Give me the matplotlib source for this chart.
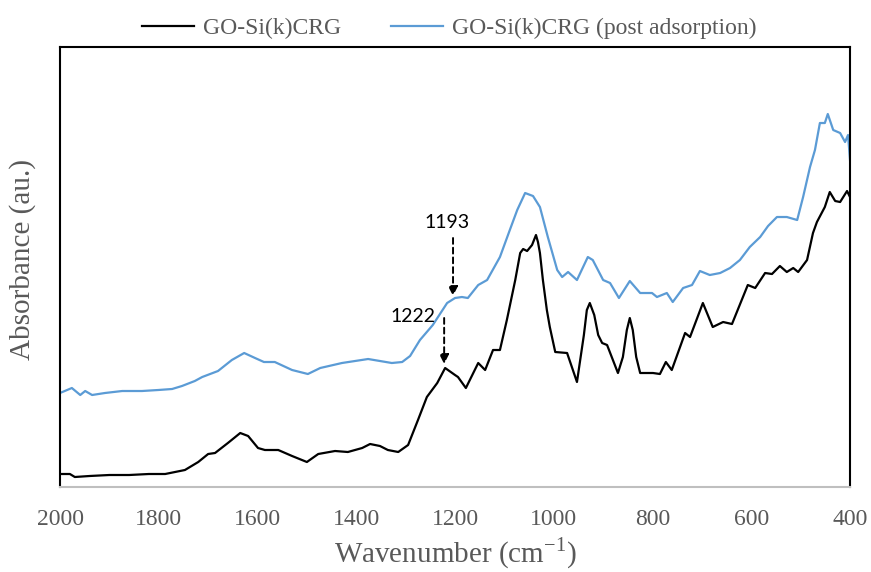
import numpy as np
import matplotlib
matplotlib.use("Agg")
import matplotlib.pyplot as plt

# ---------------- data ----------------
wn_go = [2000, 1980, 1970, 1940, 1900, 1860, 1820, 1787, 1747, 1720, 1700, 1686,
         1660, 1635, 1619, 1599, 1585, 1558, 1530, 1500, 1477, 1443, 1417, 1388,
         1372, 1352, 1336, 1315, 1295, 1275, 1257, 1236, 1220, 1200, 1194, 1178,
         1153, 1139, 1123, 1109, 1095, 1078, 1068, 1062, 1054, 1044, 1036, 1032,
         1028, 1022, 1014, 1008, 997, 973, 953, 939, 933, 927, 918, 910, 902, 892,
         870, 860, 852, 846, 840, 833, 825, 799, 785, 773, 761, 734, 724, 698, 678,
         657, 639, 607, 592, 572, 558, 542, 528, 515, 505, 487, 475, 467, 451, 441,
         430, 420, 406, 400]
abs_go = [0.13, 0.13, 0.10, 0.11, 0.12, 0.12, 0.13, 0.13, 0.17, 0.25, 0.33, 0.34,
          0.44, 0.54, 0.51, 0.39, 0.37, 0.37, 0.31, 0.25, 0.33, 0.36, 0.35, 0.39,
          0.43, 0.41, 0.37, 0.35, 0.42, 0.67, 0.90, 1.04, 1.19, 1.12, 1.10, 0.99,
          1.24, 1.17, 1.37, 1.37, 1.67, 2.07, 2.34, 2.38, 2.36, 2.42, 2.52, 2.45,
          2.34, 2.07, 1.77, 1.60, 1.35, 1.34, 1.05, 1.52, 1.77, 1.84, 1.72, 1.52, 1.44, 1.42,
          1.14, 1.30, 1.57, 1.69, 1.57, 1.30, 1.14, 1.14, 1.13, 1.25, 1.17, 1.54, 1.50, 1.84, 1.60,
          1.65, 1.63, 2.02, 1.99, 2.14, 2.13, 2.21, 2.15, 2.19, 2.15, 2.27, 2.54, 2.65, 2.80, 2.95,
          2.86, 2.85, 2.96, 2.90]

wn_post = [2000, 1976, 1959, 1949, 1935, 1909, 1874, 1834, 1801, 1773, 1753, 1727,
           1712, 1680, 1652, 1627, 1605, 1587, 1565, 1530, 1498, 1473, 1429, 1376,
           1328, 1307, 1291, 1271, 1245, 1216, 1200, 1186, 1174, 1153, 1135, 1109,
           1089, 1074, 1058, 1042, 1028, 1012, 993, 983, 971, 953, 931, 921, 900,
           886, 868, 846, 825, 801, 791, 771, 759, 738, 720, 704, 684, 663, 643,
           623, 603, 582, 566, 548, 528, 507, 495, 481, 471, 461, 451, 445, 434,
           420, 410, 404, 400]
abs_post = [0.94, 0.99, 0.92, 0.96, 0.92, 0.94, 0.96, 0.96, 0.97, 0.98, 1.01, 1.06,
            1.10, 1.16, 1.27, 1.34, 1.29, 1.25, 1.25, 1.17, 1.13, 1.19, 1.24, 1.28,
            1.24, 1.25, 1.31, 1.47, 1.62, 1.84, 1.89, 1.90, 1.89, 2.02, 2.07, 2.30,
            2.57, 2.77, 2.94, 2.91, 2.80, 2.50, 2.17, 2.10, 2.15, 2.07, 2.30, 2.27, 2.07,
            2.04, 1.89, 2.06, 1.94, 1.94, 1.90, 1.94, 1.85, 1.99, 2.02, 2.16, 2.12, 2.14, 2.19,
            2.27, 2.40, 2.50, 2.61, 2.70, 2.70, 2.67, 2.90, 3.20, 3.37, 3.64, 3.64, 3.73, 3.57,
            3.54, 3.45, 3.52, 3.27]

labels = ["GO-Si(k)CRG", "GO-Si(k)CRG (post adsorption)"]
xticks = [2000, 1800, 1600, 1400, 1200, 1000, 800, 600, 400]

# annotations: (text, text x, text y, arrow x, arrow top, arrow tip)
notes = [("1193", 1216, 2.65, 1204, 2.49, 1.91),
         ("1222", 1285, 1.71, 1222, 1.69, 1.23)]

# ---------------- plot ----------------
plt.rcParams['font.family'] = ['Liberation Serif', 'DejaVu Serif']
grey = '#595959'

fig = plt.figure(figsize=(8.71, 5.72), dpi=100)
ax = fig.add_axes([0.0689, 0.1486, 0.9070, 0.7692])

ax.plot(wn_go, abs_go, color='black', lw=1.6, label=labels[0])
ax.plot(wn_post, abs_post, color='#5B9BD5', lw=1.6, label=labels[1])

for txt, tx, ty, axx, ytop, ytip in notes:
    ax.text(tx, ty, txt, ha='center', va='center', fontsize=14,
            family=['Lato', 'DejaVu Sans'], color='black')
    ax.annotate('', xy=(axx, ytip), xytext=(axx, ytop),
                arrowprops=dict(arrowstyle='-|>', color='black', lw=1.4,
                                linestyle=(0, (3, 2)), mutation_scale=14,
                                shrinkA=0, shrinkB=0))

ax.set_xlim(2000, 400)
ax.set_ylim(0, 4.40)
ax.set_xticks(xticks)
ax.set_xticklabels([str(t) for t in xticks])
ax.set_yticks([])
ax.tick_params(axis='x', length=0, pad=16, labelsize=17, labelcolor=grey)

for s in ['top', 'left', 'right']:
    ax.spines[s].set_color('black')
    ax.spines[s].set_linewidth(1.5)
ax.spines['bottom'].set_color('#BFBFBF')
ax.spines['bottom'].set_linewidth(1.5)

ax.set_xlabel('Wavenumber (cm$^{\\mathregular{-1}}$)', fontsize=21, color=grey, labelpad=4)
ax.set_ylabel('Absorbance (au.)', fontsize=21, color=grey)
ax.yaxis.set_label_coords(-0.030, 0.516)

leg = fig.legend(loc='center', bbox_to_anchor=(0.516, 0.951), ncol=2, frameon=False,
                 fontsize=17, handlelength=2.2, columnspacing=2.1, handletextpad=0.4)
for t in leg.get_texts():
    t.set_color(grey)

fig.savefig('out.png', dpi=100)
